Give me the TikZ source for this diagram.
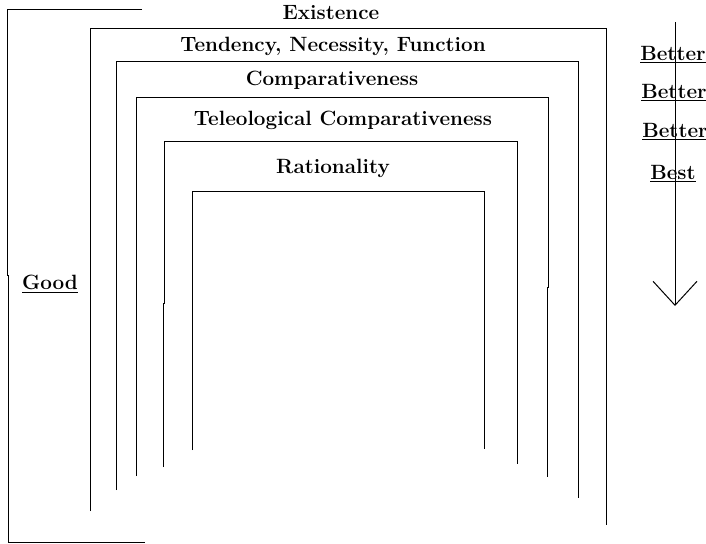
\documentclass[tikz,border=0pt]{standalone}
\usetikzlibrary{arrows.meta}

\tikzset{
  frame/.style={line width=0.75pt},
  lbl/.style={font=\fontsize{15.5}{18}\selectfont\bfseries, inner sep=1pt},
  rank/.style={font=\fontsize{15.5}{18}\selectfont\bfseries, inner sep=1pt}
}

\begin{document}
\begin{tikzpicture}[x=0.75pt, y=-0.75pt]
                    \useasboundingbox (0,0) rectangle (706,543);

                    % outer bracket
                    \draw[frame] (142,9) -- (7,9) -- (7,275) -- (8,275) -- (8,542) -- (145,542);
                    \node[rank] (good) at (50,284) {\underline{Good}};

                    % nested frames
                    \draw[frame] (90,511) -- (90,28) -- (606,28) -- (606,525);
                    \draw[frame] (116,490) -- (116,61) -- (578,61) -- (578,498);
                    \draw[frame] (136,476) -- (136,97) -- (548,97) -- (548,287) -- (547,287) -- (547,477);
                    \draw[frame] (163,467) -- (163,303) -- (164,303) -- (164,141) -- (517,141) -- (517,464);
                    \draw[frame] (192,450) -- (192,191) -- (484,191) -- (484,449);

                    \node[lbl] (exist) at (331,13) {Existence};
                    \node[lbl] (tend) at (333,46) {Tendency, Necessity, Function};
                    \node[lbl] (comp) at (332,80) {Comparativeness};
                    \node[lbl] (telcomp) at (343,120) {Teleological Comparativeness};
                    \node[lbl] (ratio) at (333,168) {Rationality};

                    % scale arrow
                    \coordinate (top) at (675,22);
                    \coordinate (tip) at (675,306);
                    \draw[line width=0.75pt, -{Straight Barb[length=18pt,width=33pt,line width=0.75pt]}] (top) -- (tip);
                    \node[rank] (better1) at (673,55) {\underline{Better}};
                    \node[rank] (better2) at (674,93) {\underline{Better}};
                    \node[rank] (better3) at (675,132) {\underline{Better}};
                    \node[rank] (best) at (673,174) {\underline{Best}};
\end{tikzpicture}
\end{document}
